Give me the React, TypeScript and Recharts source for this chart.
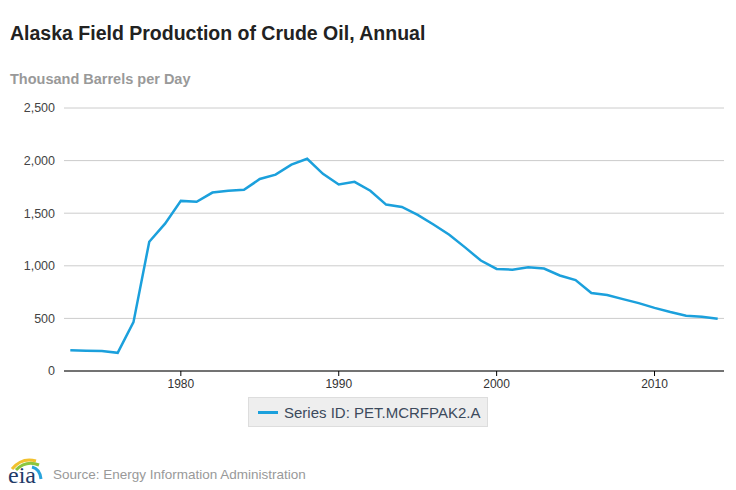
import { LineChart, Line, XAxis, YAxis, CartesianGrid } from "recharts";

const years = [
  1973, 1974, 1975, 1976, 1977, 1978, 1979, 1980, 1981, 1982, 1983, 1984, 1985, 1986,
  1987, 1988, 1989, 1990, 1991, 1992, 1993, 1994, 1995, 1996, 1997, 1998, 1999, 2000,
  2001, 2002, 2003, 2004, 2005, 2006, 2007, 2008, 2009, 2010, 2011, 2012, 2013, 2014,
];
const production = [
  198, 193, 191, 173, 464, 1229, 1401, 1617, 1609, 1696, 1714, 1722, 1825, 1867,
  1962, 2017, 1874, 1773, 1798, 1714, 1582, 1559, 1484, 1393, 1296, 1175, 1050, 970,
  963, 985, 974, 908, 864, 741, 722, 683, 645, 600, 561, 526, 515, 496,
];
const xTicks = [1980, 1990, 2000, 2010];
const yTicks = [0, 500, 1000, 1500, 2000, 2500];
const seriesName = "Series ID: PET.MCRFPAK2.A";

const data = years.map((y, i) => ({ year: y, value: production[i] }));
const font = "'Liberation Sans', Arial, sans-serif";
const blue = "#1ba0dc";

export default function App() {
  return (
    <div style={{ position: "absolute", left: 0, top: 0, width: 736, height: 490, background: "#fff", fontFamily: font }}>
      <div style={{ position: "absolute", left: 10, top: 22, fontSize: 19.5, fontWeight: "bold", color: "#222" }}>
        Alaska Field Production of Crude Oil, Annual
      </div>
      <div style={{ position: "absolute", left: 10, top: 71, fontSize: 14.5, fontWeight: "bold", color: "#999" }}>
        Thousand Barrels per Day
      </div>
      <div style={{ position: "absolute", left: 0, top: 0 }}>
        <LineChart width={736} height={400} data={data} margin={{ top: 108, right: 12, left: 0, bottom: 0 }}>
          <CartesianGrid vertical={false} stroke="#cccccc" />
          <XAxis
            dataKey="year"
            type="number"
            domain={[1972.6, 2014.4]}
            ticks={xTicks}
            allowDataOverflow
            height={29}
            tickSize={5}
            tickMargin={3}
            axisLine={{ stroke: "#000" }}
            tickLine={{ stroke: "#000" }}
            tick={{ fill: "#333", fontSize: 12, fontFamily: font }}
          />
          <YAxis
            type="number"
            domain={[0, 2500]}
            ticks={yTicks}
            width={64}
            axisLine={false}
            tickLine={false}
            tickSize={0}
            tickMargin={9}
            tickFormatter={(v: number) => v.toLocaleString("en-US")}
            tick={{ fill: "#444", fontSize: 12.5, fontFamily: font }}
          />
          <Line
            type="linear"
            dataKey="value"
            name={seriesName}
            stroke={blue}
            strokeWidth={2.5}
            dot={false}
            isAnimationActive={false}
          />
        </LineChart>
      </div>
      <div
        style={{
          position: "absolute",
          left: 248,
          top: 397,
          width: 240,
          height: 30,
          background: "#eeeeee",
          border: "1px solid #dddddd",
          display: "flex",
          alignItems: "center",
          boxSizing: "border-box",
          fontSize: 15,
          color: "#3c4a5c",
          whiteSpace: "nowrap",
        }}
      >
        <span style={{ display: "inline-block", width: 20, height: 3, background: blue, marginLeft: 9, marginRight: 6 }} />
        {seriesName}
      </div>
      <svg style={{ position: "absolute", left: 6, top: 455 }} width={40} height={32}>
        <path d="M6 14 Q16 2 30 6" stroke="#f2c12e" strokeWidth={3} fill="none" />
        <path d="M10 15 Q20 5 33 10" stroke="#8cc63f" strokeWidth={3} fill="none" />
        <path d="M26 12 Q34 14 35 24" stroke="#29a3dc" strokeWidth={3} fill="none" />
        <text x={2} y={28} fontFamily="'Liberation Serif', serif" fontSize={24} fill="#1f3b68">eia</text>
      </svg>
      <div style={{ position: "absolute", left: 53, top: 467, fontSize: 13.5, color: "#999" }}>
        Source: Energy Information Administration
      </div>
    </div>
  );
}
